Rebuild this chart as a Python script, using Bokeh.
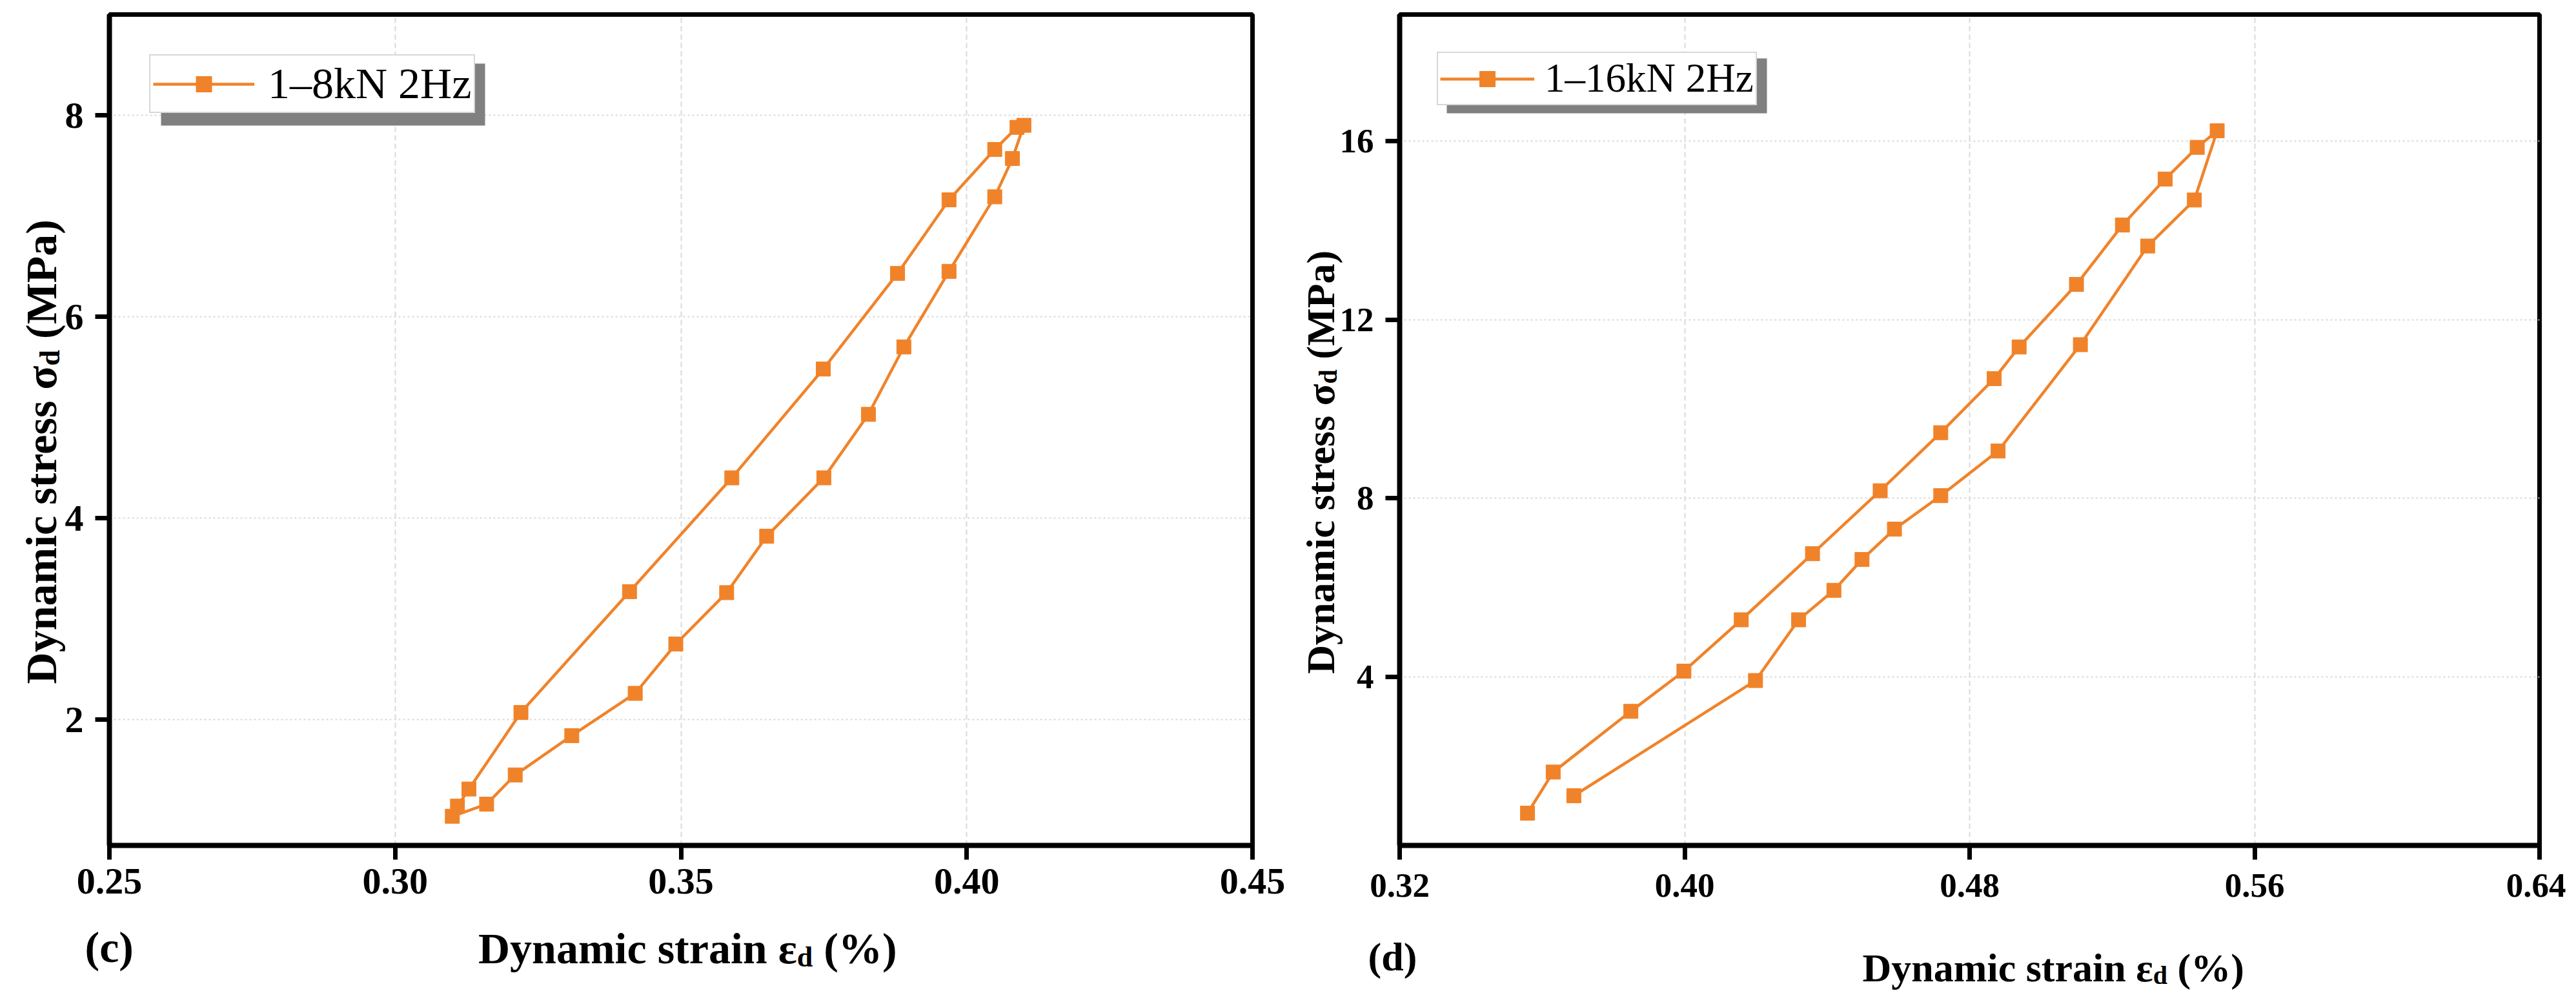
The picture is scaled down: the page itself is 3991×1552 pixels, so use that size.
import math
from bokeh.plotting import figure
from bokeh.layouts import row, column
from bokeh.models import (FixedTicker, Legend, LegendItem, BoxAnnotation,
                          Range1d, NumeralTickFormatter)
from bokeh.core.properties import value
from bokeh.embed import file_html
from bokeh.resources import INLINE

# ---------------- data ----------------
# (c) 1-8kN 2Hz : dynamic strain (%) and dynamic stress (MPa)
c_strain = [0.3100, 0.3160, 0.3210, 0.3309, 0.3420, 0.3491, 0.3580, 0.3650, 0.3750,
            0.3828, 0.3890, 0.3969, 0.4049, 0.4080, 0.4100, 0.4088, 0.4049, 0.3969,
            0.3879, 0.3749, 0.3589, 0.3410, 0.3220, 0.3129, 0.3109]
c_stress = [1.04, 1.16, 1.45, 1.84, 2.26, 2.75, 3.26, 3.82, 4.40,
            5.03, 5.70, 6.45, 7.19, 7.57, 7.90, 7.88, 7.66, 7.16,
            6.43, 5.48, 4.40, 3.27, 2.07, 1.31, 1.14]
c_label = "1\u20138kN 2Hz"
c_xticks = [0.25, 0.30, 0.35, 0.40, 0.45]
c_yticks = [2, 4, 6, 8]

# (d) 1-16kN 2Hz
d_strain = [0.3689, 0.4199, 0.4320, 0.4419, 0.4498, 0.4589, 0.4719, 0.4880, 0.5111,
            0.5300, 0.5431, 0.5495, 0.5439, 0.5349, 0.5229, 0.5100, 0.4939, 0.4869,
            0.4719, 0.4549, 0.4359, 0.4159, 0.3998, 0.3849, 0.3631, 0.3559]
d_stress = [1.34, 3.92, 5.28, 5.94, 6.63, 7.31, 8.06, 9.06, 11.44,
            13.65, 14.68, 16.23, 15.86, 15.15, 14.12, 12.79, 11.39, 10.68,
            9.47, 8.17, 6.76, 5.28, 4.13, 3.23, 1.87, 0.95]
d_label = "1\u201316kN 2Hz"
d_xticks = [0.32, 0.40, 0.48, 0.56, 0.64]
d_yticks = [4, 8, 12, 16]

ORANGE = "#F0832A"
SERIF = "Liberation Serif"
PAGE_W, PAGE_H = 3975, 1536   # drawing area inside the 8px page margin


def make_panel(cfg):
    W, H = cfg["size"]
    fl, fr, ft, fb = cfg["frame"]          # frame edges in page pixels
    ox, oy = cfg["origin"]                 # canvas origin in page pixels
    xr, yr = cfg["xr"], cfg["yr"]
    p = figure(width=W, height=H, x_range=Range1d(*xr), y_range=Range1d(*yr),
               output_backend="svg", toolbar_location=None,
               min_border_left=fl - ox, min_border_right=ox + W - fr,
               min_border_top=ft - oy, min_border_bottom=oy + H - fb)
    p.background_fill_color = "white"
    p.border_fill_color = "white"
    p.outline_line_color = "black"
    p.outline_line_width = 7

    def dx(px):
        return xr[0] + (px - fl) / (fr - fl) * (xr[1] - xr[0])

    def dy(py):
        return yr[1] - (py - ft) / (fb - ft) * (yr[1] - yr[0])

    for ax in (p.xaxis[0], p.yaxis[0]):
        ax.axis_line_width = 8
        ax.axis_line_color = "black"
        ax.major_tick_line_width = 7
        ax.major_tick_line_color = "black"
        ax.major_tick_out = 22
        ax.major_tick_in = 0
        ax.minor_tick_line_color = None
        ax.major_label_text_font = SERIF
        ax.major_label_text_font_style = "bold"
        ax.major_label_text_font_size = cfg["tick_size"]
        ax.major_label_text_color = "black"
    p.xaxis.ticker = FixedTicker(ticks=cfg["xticks"])
    p.yaxis.ticker = FixedTicker(ticks=cfg["yticks"])
    p.xaxis.formatter = NumeralTickFormatter(format="0.00")
    p.xaxis.major_label_standoff = cfg["xstandoff"]
    p.yaxis.major_label_standoff = 18

    p.xgrid.grid_line_color = "#D9D9D9"
    p.xgrid.grid_line_width = 2
    p.xgrid.grid_line_dash = "8 5"
    p.ygrid.grid_line_color = "#D9D9D9"
    p.ygrid.grid_line_width = 2
    p.ygrid.grid_line_dash = "3 4"

    lr = p.line(cfg["x"], cfg["y"], line_color=ORANGE, line_width=4.5)
    sr = p.scatter(cfg["x"], cfg["y"], marker="square", size=22,
                   fill_color=ORANGE, line_color=ORANGE)

    # legend shadow + legend
    sl, st, sr_, sb = cfg["shadow"]
    p.add_layout(BoxAnnotation(left=dx(sl), right=dx(sr_), top=dy(st), bottom=dy(sb),
                               fill_color="#808080", fill_alpha=1.0, line_alpha=0))
    lg = cfg["legend"]
    legend = Legend(items=[LegendItem(label=cfg["label"], renderers=[lr, sr])],
                    location="top_left", margin=lg["margin"], padding=lg["pad"],
                    label_standoff=lg["standoff"], glyph_width=lg["gw"],
                    glyph_height=60, label_height=20,
                    label_text_font=SERIF, label_text_font_size=lg["font"],
                    label_text_color="black",
                    border_line_color="#B0B0B0", border_line_width=2,
                    background_fill_color="white", background_fill_alpha=1.0, spacing=0)
    p.add_layout(legend)
    return p


def add_titles(ov, cfg):
    """Axis titles (with subscripts) and panel tag, in page pixels."""
    def T(px, py, text, size, align="left", angle=0.0):
        ov.text(x=[px - 8], y=[PAGE_H + 8 - py], text=[text],
                text_font=value(SERIF), text_font_size=value(f"{size}px"),
                text_font_style=value("bold"), text_align=value(align),
                text_baseline=value("alphabetic"), angle=angle, text_color="black")

    F = cfg["title_size"]
    fs = round(0.65 * F)
    wd = 0.556 * 0.65 * F
    sp = 0.25 * F
    # x title
    cx, by = cfg["xtitle"]
    w1 = 7.283 * F
    w3 = 1.916 * F
    P = cx - (w1 + wd + w3) / 2 + w1
    T(P, by, "Dynamic strain \u03b5", F, "right")
    T(P, by + 0.2 * F, "d", fs, "left")
    T(P + wd + sp, by, "(%)", F, "left")
    # y title (rotated, reading upwards)
    bx, cy = cfg["ytitle"]
    w1 = 7.271 * F
    w3 = 2.971 * F
    P = cy + (w1 + wd + w3) / 2 - w1
    a = math.pi / 2
    T(bx, P, "Dynamic stress \u03c3", F, "right", a)
    T(bx + 0.2 * F, P, "d", fs, "left", a)
    T(bx, P - wd - sp, "(MPa)", F, "left", a)
    # tag
    tx, ty = cfg["tag_pos"]
    T(tx, ty, cfg["tag"], F, "left")


cfg_c = dict(size=(2040, 1536), origin=(8, 8), frame=(177, 1948, 30, 1317),
             xr=(0.25, 0.45), yr=(0.75, 9.0), xticks=c_xticks, yticks=c_yticks,
             x=c_strain, y=c_stress, label=c_label, tick_size="58px", xstandoff=14,
             shadow=(257, 106, 759, 202),
             legend=dict(margin=62, pad=4, standoff=21, gw=157, font="68px"),
             title_size=68, xtitle=(1072, 1476), ytitle=(71, 708),
             tag="(c)", tag_pos=(139, 1474))

cfg_d = dict(size=(1935, 1536), origin=(2048, 8), frame=(2176, 3942, 30, 1317),
             xr=(0.32, 0.64), yr=(0.227, 18.834), xticks=d_xticks, yticks=d_yticks,
             x=d_strain, y=d_stress, label=d_label, tick_size="53px", xstandoff=22,
             shadow=(2249, 98, 2745, 183),
             legend=dict(margin=58, pad=3, standoff=16, gw=146, font="63px"),
             title_size=62, xtitle=(3188, 1506), ytitle=(2053, 724),
             tag="(d)", tag_pos=(2127, 1489))

p1 = make_panel(cfg_c)
p2 = make_panel(cfg_d)

# transparent overlay covering both panels, carrying the axis titles
ov = figure(width=PAGE_W, height=PAGE_H, x_range=Range1d(0, PAGE_W), y_range=Range1d(0, PAGE_H),
            output_backend="svg", toolbar_location=None,
            x_axis_location=None, y_axis_location=None,
            min_border_left=0, min_border_right=0, min_border_top=0, min_border_bottom=0)
ov.title.visible = False
ov.grid.visible = False
ov.outline_line_color = None
ov.background_fill_color = None
ov.border_fill_color = None
ov.margin = (-PAGE_H, 0, 0, 0)
add_titles(ov, cfg_c)
add_titles(ov, cfg_d)

layout = column(row(p1, p2, spacing=0), ov, spacing=0)

open("out.html", "w").write(file_html(layout, INLINE))
